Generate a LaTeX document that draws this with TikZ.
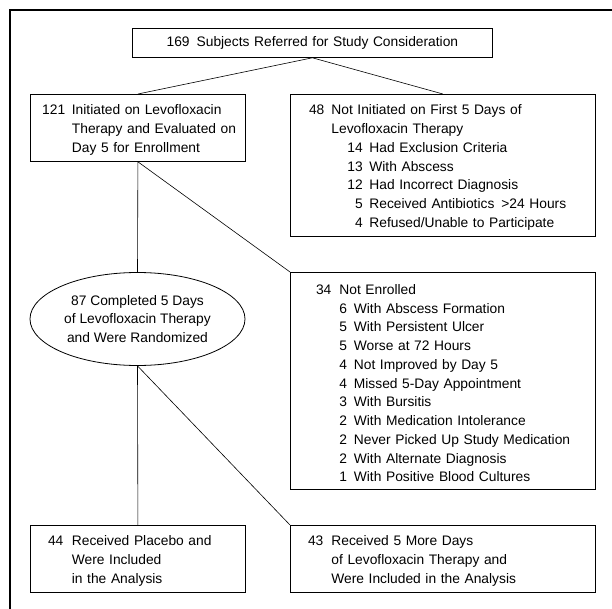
\documentclass[tikz,border=0pt]{standalone}
\usepackage{fontspec}
\setmainfont{Liberation Sans}
\usetikzlibrary{shapes.geometric}
\newcommand{\ent}[3]{\leavevmode\rlap{\makebox[#1pt][r]{#2}}\hspace*{#3pt}}
\newcommand{\ind}[1]{\leavevmode\hspace*{#1pt}}
\newcommand{\fst}{\leavevmode\rule{0pt}{14.5pt}}
\begin{document}
\begin{tikzpicture}[x=1pt,y=-1pt,
  font=\fontsize{13.8}{18.75}\selectfont,
  box/.style={draw, line width=0.8pt, rectangle, inner sep=0pt, align=left, anchor=north west},
  link/.style={line width=0.6pt},
  frame/.style={line width=1.2pt}]
\useasboundingbox (0,0) rectangle (612,609);
% frame
\coordinate (fr) at (612,10);
\coordinate (fc) at (10,10);
\coordinate (fb) at (10,609);
\draw[frame] (fr) -- (fc) -- (fb);
% boxes
\node[box, text width=360pt, minimum height=29pt, align=center] (top) at (132,28)
  {169\hspace{7pt}Subjects Referred for Study Consideration};
\node[box, text width=215pt, minimum height=67pt] (b121) at (30,94)
  {\fst\ent{34.8}{121}{41.5}Initiated on Levofloxacin\\
   \ind{41.5}Therapy and Evaluated on\\
   \ind{41.5}Day 5 for Enrollment};
\node[box, text width=305pt, minimum height=142pt] (b48) at (290,94)
  {\fst\ent{34}{48}{41}Not Initiated on First 5 Days of\\
   \ind{41}Levofloxacin Therapy\\
   \ent{72.4}{14}{79}Had Exclusion Criteria\\
   \ent{72.4}{13}{79}With Abscess\\
   \ent{72.4}{12}{79}Had Incorrect Diagnosis\\
   \ent{72.4}{5}{79}Received Antibiotics\hspace{7pt}>24 Hours\\
   \ent{72.4}{4}{79}Refused/Unable to Participate};
\node[draw, ellipse, line width=0.8pt, minimum width=215pt, minimum height=93pt,
  inner sep=0pt, align=center] (ell) at (137.5,319)
  {87 Completed 5 Days\\ of Levofloxacin Therapy\\ and Were Randomized};
\node[box, text width=305pt, minimum height=217pt] (b34) at (290,272)
  {\fst\ent{41}{34}{49}Not Enrolled\\
   \ent{56.7}{6}{63.5}With Abscess Formation\\
   \ent{56.7}{5}{63.5}With Persistent Ulcer\\
   \ent{56.7}{5}{63.5}Worse at 72 Hours\\
   \ent{56.7}{4}{63.5}Not Improved by Day 5\\
   \ent{56.7}{4}{63.5}Missed 5-Day Appointment\\
   \ent{56.7}{3}{63.5}With Bursitis\\
   \ent{56.7}{2}{63.5}With Medication Intolerance\\
   \ent{56.7}{2}{63.5}Never Picked Up Study Medication\\
   \ent{56.7}{2}{63.5}With Alternate Diagnosis\\
   \ent{56.7}{1}{63.5}With Positive Blood Cultures};
\node[box, text width=215pt, minimum height=67pt] (b44) at (30,525)
  {\fst\ent{33}{44}{41.5}Received Placebo and\\
   \ind{41.5}Were Included\\
   \ind{41.5}in the Analysis};
\node[box, text width=305pt, minimum height=67pt] (b43) at (290,525)
  {\fst\ent{33}{43}{41}Received 5 More Days\\
   \ind{41}of Levofloxacin Therapy and\\
   \ind{41}Were Included in the Analysis};
% connectors
\draw[link] (top.south) -- (b121.north);
\draw[link] (top.south) -- (b48.north);
\draw[link] (b121.south) -- (ell.north);
\draw[link] (b121.south) -- (b34.north west);
\draw[link] (ell.south) -- (b44.north);
\draw[link] (ell.south) -- (b43.north west);
\end{tikzpicture}
\end{document}
